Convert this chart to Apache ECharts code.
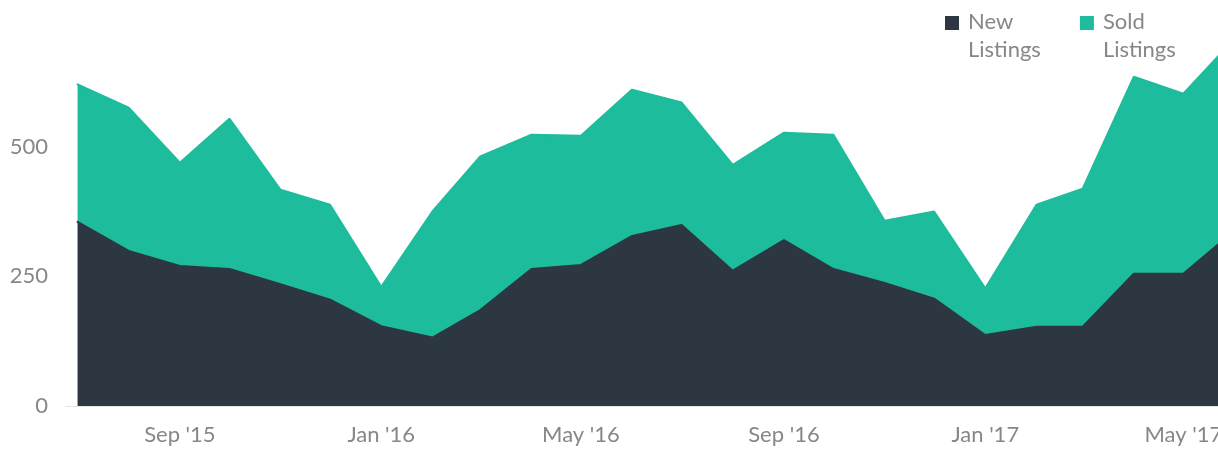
<!DOCTYPE html>
<html lang="en">
  <head>
    <meta charset="UTF-8" />
    <title>Listings</title>
    <style>
      html, body { margin: 0; padding: 0; background: #fff; overflow: hidden; }
    </style>
  </head>
  <body>
    <div id="main" style="width: 1218px; height: 449px"></div>

    <script src="https://cdn.jsdelivr.net/npm/echarts@6/dist/echarts.min.js"></script>
    <script>
      // months (first day of each month)
      var months = [
        "2015-07", "2015-08", "2015-09", "2015-10", "2015-11", "2015-12",
        "2016-01", "2016-02", "2016-03", "2016-04", "2016-05", "2016-06",
        "2016-07", "2016-08", "2016-09", "2016-10", "2016-11", "2016-12",
        "2017-01", "2017-02", "2017-03", "2017-04", "2017-05", "2017-06",
      ];
      var newListings = [
        355, 299, 270, 264, 235, 205, 154, 132, 185, 264, 272, 328,
        349, 261, 320, 264, 237, 207, 137, 153, 153, 255, 255, 338,
      ];
      var soldListings = [
        265, 276, 199, 290, 182, 183, 76, 243, 296, 259, 249, 282,
        236, 204, 207, 259, 120, 168, 90, 235, 266, 380, 347, 370,
      ];
      // x axis labels
      var tickMonths = ["2015-09", "2016-01", "2016-05", "2016-09", "2017-01", "2017-05"];
      var tickLabels = ["Sep '15", "Jan '16", "May '16", "Sep '16", "Jan '17", "May '17"];
      var yTicks = [0, 250, 500, 750];

      // days since the first month
      var start = Date.UTC(2015, 6, 1);
      function toDay(m) {
        var p = m.split("-");
        return (Date.UTC(+p[0], +p[1] - 1, 1) - start) / 86400000;
      }
      var tickDays = tickMonths.map(toDay);

      // value first so that the stack runs on y
      var newData = months.map(function (m, i) {
        return [newListings[i], toDay(m)];
      });
      var soldData = months.map(function (m, i) {
        return [soldListings[i], toDay(m)];
      });

      var dark = "#2c3742";
      var green = "#1dbc9c";
      var textColor = "#878787";

      var myChart = echarts.init(document.getElementById("main"));

      var option = {
        backgroundColor: "#fff",
        animation: false,
        textStyle: { fontFamily: "Lato" },
        grid: {
          left: 66,
          right: 0,
          top: 17,
          bottom: 43,
          outerBoundsMode: "none",
        },
        legend: {
          left: 940,
          top: 3,
          itemGap: 39,
          itemWidth: 14,
          itemHeight: 56,
          icon: "path://M0,0h0.1v0.1h-0.1z M0,8h14v14h-14z M0,55.9h0.1v0.1h-0.1z",
          itemStyle: { borderWidth: 0 },
          textStyle: {
            fontFamily: "Lato",
            fontSize: 22,
            lineHeight: 28,
            color: textColor,
            padding: [0, 0, 0, 4],
          },
          formatter: function (name) {
            return name.replace(" ", "\n");
          },
          data: ["New Listings", "Sold Listings"],
        },
        xAxis: {
          type: "value",
          min: -7,
          max: 691,
          splitLine: { show: false },
          axisTick: { show: false },
          axisLine: { show: true, lineStyle: { color: "#e6e6e6", width: 1 } },
          axisLabel: {
            customValues: tickDays,
            fontFamily: "Lato",
            fontSize: 22,
            color: textColor,
            margin: 18,
            formatter: function (v) {
              var i = tickDays.indexOf(v);
              return i >= 0 ? tickLabels[i] : "";
            },
          },
        },
        yAxis: {
          type: "value",
          min: yTicks[0],
          max: yTicks[yTicks.length - 1],
          interval: 250,
          splitLine: { show: false },
          axisLine: { show: false },
          axisTick: { show: false },
          axisLabel: {
            showMaxLabel: false,
            fontFamily: "Lato",
            fontSize: 22,
            color: textColor,
            margin: 18,
          },
        },
        series: [
          {
            name: "New Listings",
            type: "line",
            stack: "total",
            data: newData,
            encode: { x: 1, y: 0 },
            showSymbol: false,
            symbol: "none",
            color: dark,
            lineStyle: { color: dark, width: 2, cap: "round" },
            areaStyle: { color: dark, opacity: 1 },
          },
          {
            name: "Sold Listings",
            type: "line",
            stack: "total",
            data: soldData,
            encode: { x: 1, y: 0 },
            showSymbol: false,
            symbol: "none",
            color: green,
            lineStyle: { color: green, width: 2, cap: "round" },
            areaStyle: { color: green, opacity: 1 },
          },
        ],
      };
      myChart.setOption(option);
    </script>
  </body>
</html>
